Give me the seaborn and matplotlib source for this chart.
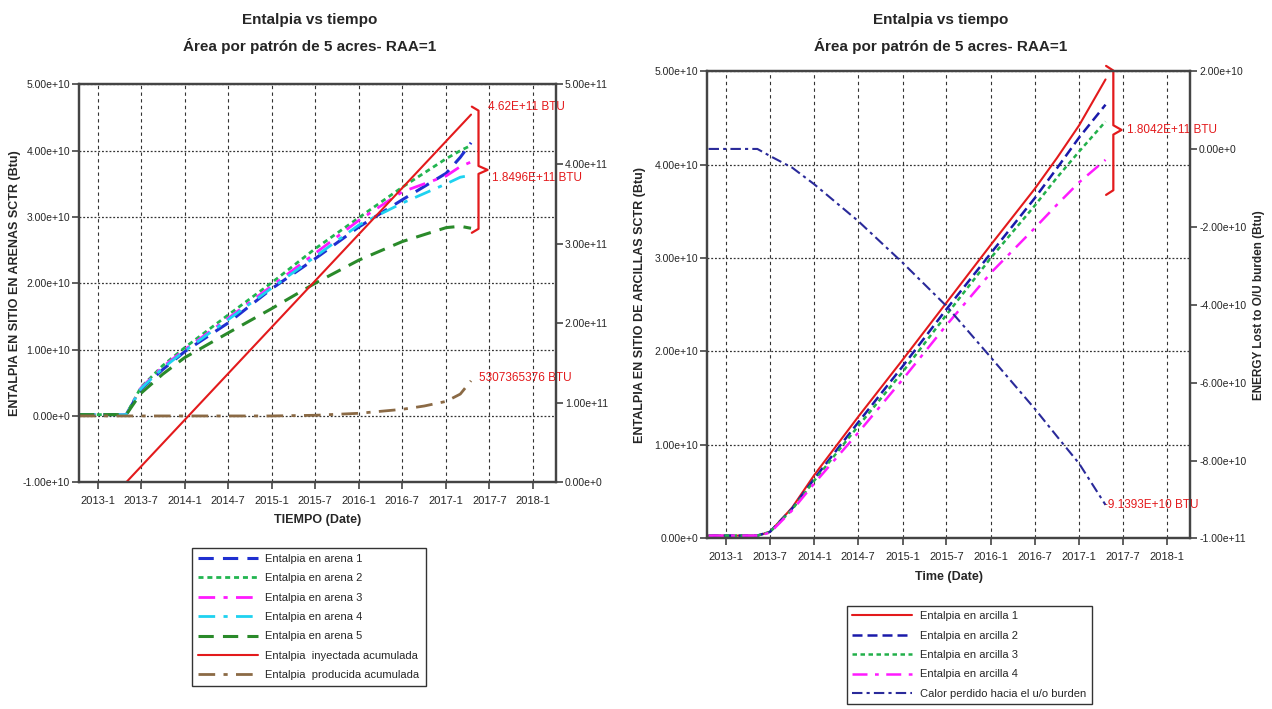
import numpy as np
import pandas as pd
import seaborn as sns
import matplotlib.pyplot as plt
import matplotlib.dates as mdates
from matplotlib.ticker import FuncFormatter, MultipleLocator

# ---- datos panel izquierdo (arenas) ----
fechas_arena = pd.to_datetime(['2012-10-15', '2013-05-01', '2013-07-01', '2013-10-01', '2014-01-01',
                               '2014-07-01', '2015-01-01', '2015-07-01', '2016-01-01', '2016-07-01',
                               '2017-01-01', '2017-03-01', '2017-04-15'])
arena1 = np.array([0.02, 0.02, 0.40, 0.70, 0.97, 1.40, 1.92, 2.37, 2.85, 3.26, 3.66, 3.90, 4.12]) * 1e10
arena2 = np.array([0.02, 0.02, 0.43, 0.76, 1.03, 1.52, 2.01, 2.52, 2.99, 3.45, 3.88, 4.00, 4.08]) * 1e10
arena3 = np.array([0.02, 0.02, 0.42, 0.74, 1.00, 1.47, 1.96, 2.45, 2.95, 3.38, 3.62, 3.76, 3.83]) * 1e10
arena4 = np.array([0.02, 0.02, 0.41, 0.72, 0.98, 1.45, 1.93, 2.40, 2.88, 3.21, 3.50, 3.60, 3.63]) * 1e10
arena5 = np.array([0.02, 0.02, 0.34, 0.63, 0.88, 1.25, 1.62, 2.00, 2.35, 2.63, 2.84, 2.86, 2.83]) * 1e10

fechas_iny = pd.to_datetime(['2012-10-15', '2013-05-01', '2017-04-15'])
inyectada = np.array([0.0, 0.0, 4.62]) * 1e11

fechas_prod = pd.to_datetime(['2012-10-15', '2015-01-01', '2015-07-01', '2016-01-01', '2016-07-01',
                              '2016-10-01', '2017-01-01', '2017-03-01', '2017-04-15'])
producida = np.array([0.0, 0.0, 0.01, 0.04, 0.10, 0.15, 0.22, 0.33, 0.53]) * 1e10

# ---- datos panel derecho (arcillas) ----
fechas_arc = pd.to_datetime(['2012-10-20', '2013-05-10', '2013-07-01', '2013-10-01', '2014-01-01',
                             '2014-07-01', '2015-01-01', '2015-07-01', '2016-01-01', '2016-07-01',
                             '2016-10-01', '2017-01-01', '2017-04-20'])
arcilla1 = np.array([0.03, 0.03, 0.07, 0.33, 0.68, 1.30, 1.91, 2.52, 3.14, 3.74, 4.07, 4.42, 4.91]) * 1e10
arcilla2 = np.array([0.03, 0.03, 0.07, 0.32, 0.64, 1.24, 1.84, 2.45, 3.05, 3.64, 3.96, 4.29, 4.64]) * 1e10
arcilla3 = np.array([0.03, 0.03, 0.07, 0.31, 0.62, 1.20, 1.78, 2.39, 3.00, 3.56, 3.86, 4.14, 4.46]) * 1e10
arcilla4 = np.array([0.03, 0.03, 0.06, 0.30, 0.59, 1.13, 1.70, 2.28, 2.84, 3.32, 3.57, 3.81, 4.05]) * 1e10
calor = np.array([0.0, 0.0, -0.18, -0.48, -0.91, -1.85, -2.92, -4.03, -5.35, -6.67, -7.38, -8.08, -9.14]) * 1e10

titulo = 'Entalpia vs tiempo\nÁrea por patrón de 5 acres- RAA=1'
xticks = pd.date_range('2013-01-01', '2018-01-01', freq='6MS')

sns.set_style('ticks')
plt.rcParams['font.family'] = ['Liberation Sans', 'DejaVu Sans']
rojo = '#e31a1c'


def fmt_sci(v, pos):
    if abs(v) < 1e-6:
        return '0.00e+0'
    e = int(np.floor(np.log10(abs(v)) + 1e-9))
    return f'{v / 10**e:.2f}e+{e}'


def estilo(ax, axr):
    ax.set_xlim(pd.Timestamp('2012-10-15'), pd.Timestamp('2018-04-05'))
    ax.set_xticks(xticks)
    ax.xaxis.set_major_formatter(FuncFormatter(lambda v, p: f'{mdates.num2date(v).year}-{mdates.num2date(v).month}'))
    for a in (ax, axr):
        a.yaxis.set_major_formatter(FuncFormatter(fmt_sci))
        a.tick_params(labelsize=7.5, length=5, width=1.2, color='#444', pad=1.5)
        for s in a.spines.values():
            s.set_color('#444')
            s.set_linewidth(1.6)
            s.set_visible(True)
    ax.tick_params(axis='x', pad=5, labelsize=8)
    ax.grid(axis='y', linestyle=(0, (1.5, 1.5)), color='#333', linewidth=0.9)
    ax.grid(axis='x', linestyle=(0, (3, 3)), color='#333', linewidth=0.8)
    axr.grid(False)


def llave(ax, x0, xv, xt, ytop, ybot, ymid):
    ax.plot([x0, xv, xv, xt, xv, xv, x0],
            [ytop, ytop - 0.01, ymid + 0.01, ymid, ymid - 0.01, ybot + 0.01, ybot],
            color=rojo, lw=1.6, transform=ax.transAxes, clip_on=False)


fig = plt.figure(figsize=(12.72, 7.09), dpi=100)

# ================= panel izquierdo =================
ax1 = fig.add_axes([0.0621, 0.3198, 0.3748, 0.5612])
ax1r = ax1.twinx()
h1 = []
series_izq = [
    (arena1, '#1f2fd0', (0, (5, 3)), 2.2, 'Entalpia en arena 1'),
    (arena2, '#22b550', (0, (1.8, 1.4)), 2.0, 'Entalpia en arena 2'),
    (arena3, '#ff1aff', (0, (6, 3, 1.5, 3)), 2.0, 'Entalpia en arena 3'),
    (arena4, '#1ed2f0', (0, (6, 3, 1.5, 3)), 2.0, 'Entalpia en arena 4'),
    (arena5, '#2a8a2a', (0, (5, 3)), 2.2, 'Entalpia en arena 5'),
]
for vals, c, ls, lw, lab in series_izq:
    sns.lineplot(x=fechas_arena, y=vals, ax=ax1, color=c, linestyle=ls, linewidth=lw, label=lab, legend=False)
    h1.append(ax1.lines[-1])
sns.lineplot(x=fechas_iny, y=inyectada, ax=ax1r, color=rojo, linewidth=1.5,
             label='Entalpia  inyectada acumulada', legend=False)
h1.append(ax1r.lines[-1])
sns.lineplot(x=fechas_prod, y=producida, ax=ax1, color='#8b6a45', linestyle=(0, (6, 3, 1.5, 3)),
             linewidth=2.0, label='Entalpia  producida acumulada', legend=False)
h1.append(ax1.lines[-1])

ax1.set_ylim(-1e10, 5e10)
ax1.yaxis.set_major_locator(MultipleLocator(1e10))
ax1r.set_ylim(0, 5e11)
ax1r.yaxis.set_major_locator(MultipleLocator(1e11))
estilo(ax1, ax1r)
ax1.set_xlabel('TIEMPO (Date)', fontsize=9, fontweight='bold', labelpad=6)
ax1.set_ylabel('ENTALPIA EN SITIO EN ARENAS SCTR (Btu)', fontsize=9, fontweight='bold', labelpad=1)
ax1r.set_ylabel('')

llave(ax1, 0.824, 0.838, 0.857, 0.944, 0.627, 0.785)
ax1.text(0.857, 0.944, '4.62E+11 BTU', transform=ax1.transAxes, color=rojo, fontsize=8.5, va='center')
ax1.text(0.866, 0.765, '1.8496E+11 BTU', transform=ax1.transAxes, color=rojo, fontsize=8.5, va='center')
ax1.text(0.838, 0.261, '5307365376 BTU', transform=ax1.transAxes, color=rojo, fontsize=8.5, va='center')

fig.text(0.2436, 0.953, titulo, ha='center', va='center', fontsize=11, fontweight='bold', linespacing=1.8)
fig.legend(h1, [h.get_label() for h in h1], loc='upper left', bbox_to_anchor=(186 / 1272, 1 - 542 / 709),
           frameon=True, fancybox=False, edgecolor='#333', framealpha=1, fontsize=8,
           handlelength=5.4, labelspacing=0.85, borderpad=0.55, handletextpad=0.7)

# ================= panel derecho =================
ax2 = fig.add_axes([0.5561, 0.2406, 0.3795, 0.6592])
ax2r = ax2.twinx()
h2 = []
series_der = [
    (arcilla1, rojo, '-', 1.5, 'Entalpia en arcilla 1'),
    (arcilla2, '#1a1aaa', (0, (4, 2)), 1.8, 'Entalpia en arcilla 2'),
    (arcilla3, '#22b04a', (0, (1.8, 1.4)), 1.8, 'Entalpia en arcilla 3'),
    (arcilla4, '#ff1aff', (0, (6, 3, 1.5, 3)), 1.8, 'Entalpia en arcilla 4'),
]
for vals, c, ls, lw, lab in series_der:
    sns.lineplot(x=fechas_arc, y=vals, ax=ax2, color=c, linestyle=ls, linewidth=lw, label=lab, legend=False)
    h2.append(ax2.lines[-1])
sns.lineplot(x=fechas_arc, y=calor, ax=ax2r, color='#2a2a9a', linestyle=(0, (5, 2, 1.5, 2)), linewidth=1.5,
             label='Calor perdido hacia el u/o burden', legend=False)
h2.append(ax2r.lines[-1])

ax2.set_ylim(0, 5e10)
ax2.yaxis.set_major_locator(MultipleLocator(1e10))
ax2r.set_ylim(-1e11, 2e10)
ax2r.yaxis.set_major_locator(MultipleLocator(2e10))
estilo(ax2, ax2r)
ax2.set_xlabel('Time (Date)', fontsize=9, fontweight='bold', labelpad=6)
ax2.set_ylabel('ENTALPIA EN SITIO DE ARCILLAS SCTR (Btu)', fontsize=9, fontweight='bold', labelpad=6)
ax2r.set_ylabel('ENERGY Lost to O/U burden (Btu)', fontsize=8.5, fontweight='bold', labelpad=5)

llave(ax2, 0.826, 0.841, 0.858, 1.011, 0.735, 0.874)
ax2.text(0.869, 0.874, '1.8042E+11 BTU', transform=ax2.transAxes, color=rojo, fontsize=8.5, va='center')
ax2.text(0.822, 0.071, '-9.1393E+10 BTU', transform=ax2.transAxes, color=rojo, fontsize=8.5, va='center')

fig.text(0.7398, 0.953, titulo, ha='center', va='center', fontsize=11, fontweight='bold', linespacing=1.8)
fig.legend(h2, [h.get_label() for h in h2], loc='upper left', bbox_to_anchor=(841 / 1272, 1 - 600 / 709),
           frameon=True, fancybox=False, edgecolor='#333', framealpha=1, fontsize=8,
           handlelength=5.4, labelspacing=0.85, borderpad=0.5, handletextpad=0.7)

fig.savefig('out.png', dpi=100, facecolor='white')
